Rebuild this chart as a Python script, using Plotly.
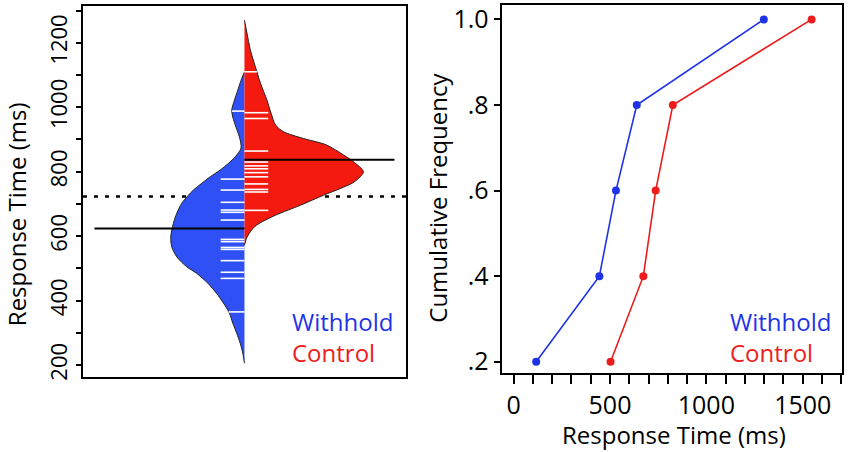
import numpy as np
import plotly.graph_objects as go

# bean outlines (relative density, control peak = 1)
withhold_rt = [206, 237, 268, 299, 330, 361, 392, 423, 454, 485, 505, 536, 567, 598, 640, 671,
               702, 727, 743, 764, 784, 805, 826, 846, 873, 907, 938, 969, 991, 1022, 1053, 1084, 1109]
withhold_dens = [0, .014, .036, .065, .098, .126, .176, .235, .308, .403, .485, .569, .611, .619, .597, .569,
                 .527, .471, .429, .359, .288, .204, .134, .078, .029, .042, .071, .098, .107, .084, .056, .028, 0]

control_rt = [572, 593, 614, 634, 665, 696, 727, 748, 765, 779, 800, 831, 852, 883, 903, 924,
              945, 982, 1022, 1075, 1125, 1177, 1230, 1270]
control_dens = [0, .017, .050, .101, .261, .471, .664, .807, .908, .958, 1.0, .916, .832, .689, .496, .328,
                .261, .223, .189, .134, .092, .050, .021, 0]

# individual response times (the white bean lines)
withhold_obs = [365, 469, 488, 524, 559, 565, 583, 590, 650, 674, 681, 705, 743, 777, 988]
control_obs = [680, 737, 745, 762, 784, 797, 809, 818, 830, 864, 965, 983, 1110]

# cumulative frequency panel
cum_freq = [0.2, 0.4, 0.6, 0.8, 1.0]
withhold_q = [117, 445, 531, 639, 1298]
control_q = [503, 673, 737, 826, 1546]

rt_ticks = list(range(200, 1301, 100))
rt_labels = ["200", "", "400", "", "600", "", "800", "", "1000", "", "1200", ""]
x2_ticks = list(range(0, 1701, 100))
x2_labels = ["0", "", "", "", "", "500", "", "", "", "", "1000", "", "", "", "", "1500", "", ""]
cf_labels = [".2", ".4", ".6", ".8", "1.0"]

BLUE = "#2f50f5"
RED = "#f51a0f"
BLUE_TXT = "#1f33e6"
RED_TXT = "#ec1c1c"
FONT = "Open Sans"
STRIP_LEN = 0.2
MEAN_LEN = 1.26
HALF = 1.357

fig = go.Figure()

# overall mean (dotted), under the beans
grand = np.mean(withhold_obs + control_obs)
fig.add_trace(go.Scatter(x=[-HALF, HALF], y=[grand, grand], mode="lines",
                         line=dict(color="black", width=2.5, dash="4px,7px")))

# beans
fig.add_trace(go.Scatter(x=[-d for d in withhold_dens], y=withhold_rt, mode="lines", fill="toself",
                         fillcolor=BLUE, line=dict(color="#222222", width=1, shape="spline", smoothing=0.8)))
fig.add_trace(go.Scatter(x=control_dens, y=control_rt, mode="lines", fill="toself",
                         fillcolor=RED, line=dict(color="#222222", width=1, shape="spline", smoothing=0.8)))

# group means
m_w = np.mean(withhold_obs)
m_c = np.mean(control_obs)
fig.add_trace(go.Scatter(x=[-MEAN_LEN, 0], y=[m_w, m_w], mode="lines", line=dict(color="black", width=2)))
fig.add_trace(go.Scatter(x=[0, MEAN_LEN], y=[m_c, m_c], mode="lines", line=dict(color="black", width=2)))

# bean lines, clipped to the bean width
xs, ys = [], []
for v in withhold_obs:
    w = min(STRIP_LEN, np.interp(v, withhold_rt, withhold_dens))
    xs += [-w, 0, None]
    ys += [v, v, None]
for v in control_obs:
    w = min(STRIP_LEN, np.interp(v, control_rt, control_dens))
    xs += [0, w, None]
    ys += [v, v, None]
fig.add_trace(go.Scatter(x=xs, y=ys, mode="lines", line=dict(color="white", width=1.6)))

# cumulative frequencies
fig.add_trace(go.Scatter(x=withhold_q, y=cum_freq, mode="lines+markers", xaxis="x2", yaxis="y2",
                         line=dict(color=BLUE_TXT, width=1.6), marker=dict(color=BLUE_TXT, size=8)))
fig.add_trace(go.Scatter(x=control_q, y=cum_freq, mode="lines+markers", xaxis="x2", yaxis="y2",
                         line=dict(color=RED_TXT, width=1.6), marker=dict(color=RED_TXT, size=8)))

frame = dict(showline=True, mirror=True, linecolor="black", linewidth=2, showgrid=False,
             zeroline=False, automargin=False)

fig.update_layout(
    width=850, height=452,
    margin=dict(l=0, r=0, t=0, b=0),
    paper_bgcolor="white", plot_bgcolor="white",
    showlegend=False,
    hovermode=False,
    font=dict(family=FONT, color="black"),
    xaxis=dict(domain=[0.0976, 0.4776], range=[-HALF, HALF], showticklabels=False, ticks="",
               anchor="y", **frame),
    yaxis=dict(domain=[0.1659, 0.9867], range=[163, 1314], tickvals=rt_ticks, ticktext=rt_labels,
               tickangle=-90, ticks="outside", ticklen=5, tickwidth=1.5, tickcolor="black",
               tickfont=dict(size=22), anchor="x", **frame),
    xaxis2=dict(domain=[0.5902, 0.9902], range=[-62, 1702], tickvals=x2_ticks, ticktext=x2_labels,
                ticks="outside", ticklen=9, tickwidth=1.5, tickcolor="black",
                tickfont=dict(size=25), anchor="y2", **frame),
    yaxis2=dict(domain=[0.1741, 0.9883], range=[0.173, 1.033], tickvals=cum_freq, ticktext=cf_labels,
                ticks="outside", ticklen=6, tickwidth=1.5, tickcolor="black",
                tickfont=dict(size=25), anchor="x2", **frame),
)

ann = [
    dict(text="Response Time (ms)", x=0.019, y=0.5265, textangle=-90, font=dict(size=24)),
    dict(text="Cumulative Frequency", x=0.515, y=0.562, textangle=-90, font=dict(size=24)),
    dict(text="Response Time (ms)", x=0.793, y=0.038, font=dict(size=24)),
]
for a in ann:
    fig.add_annotation(xref="paper", yref="paper", showarrow=False, xanchor="center", yanchor="middle", **a)

key = (f"<span style='color:{BLUE_TXT}'>Withhold</span><br>"
       f"<span style='color:{RED_TXT}'>Control</span>")
for xl in [0.341, 0.8565]:
    fig.add_annotation(text=key, x=xl, y=0.2555, xref="paper", yref="paper", showarrow=False,
                       xanchor="left", yanchor="middle", align="left", font=dict(size=24))

fig.write_html("out.html", config={"displayModeBar": False},
               post_script="document.body.style.margin='0';")
